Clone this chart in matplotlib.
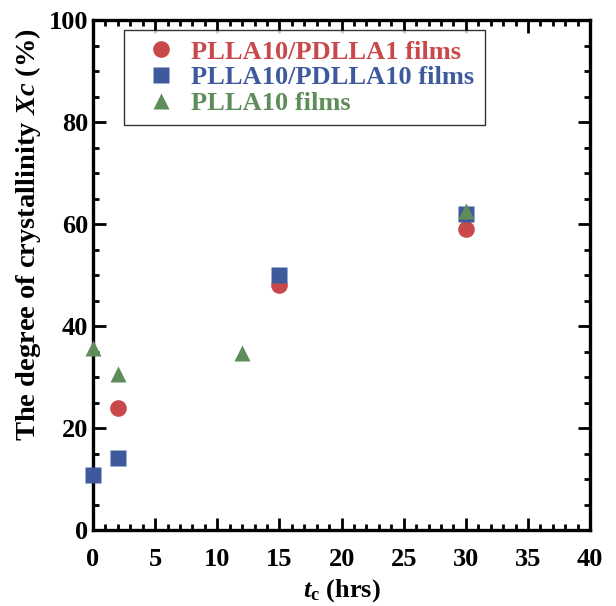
import matplotlib
matplotlib.use("Agg")
import matplotlib.pyplot as plt
from matplotlib.ticker import MultipleLocator

plt.rcParams.update({
    "font.family": "Liberation Serif",
    "font.weight": "bold",
    "mathtext.fontset": "custom",
    "mathtext.rm": "Liberation Serif:bold",
    "mathtext.it": "Liberation Serif:italic:bold",
    "mathtext.bf": "Liberation Serif:bold",
})

# data
t_blend1 = [2, 15, 30]
xc_blend1 = [24, 48, 59]
t_blend10 = [0, 2, 15, 30]
xc_blend10 = [10.8, 14.1, 50, 62]
t_plla = [0, 2, 12, 30]
xc_plla = [35.7, 30.7, 34.7, 62.5]

red = "#c9484a"
blue = "#3e5a9c"
green = "#5f8c5b"

fig = plt.figure(figsize=(6.16, 6.06), dpi=100)
ax = fig.add_axes([0.151, 0.125, 0.807, 0.842])

ax.plot(t_blend1, xc_blend1, linestyle='none', marker='o', ms=12,
        color=red, mec='none', label='PLLA10/PDLLA1 films', clip_on=False, zorder=3)
ax.plot(t_blend10, xc_blend10, linestyle='none', marker='s', ms=12,
        color=blue, mec='none', label='PLLA10/PDLLA10 films', clip_on=False, zorder=4)
ax.plot(t_plla, xc_plla, linestyle='none', marker='^', ms=12,
        color=green, mec='none', label='PLLA10 films', clip_on=False, zorder=5)

ax.set_xlim(0, 40)
ax.set_ylim(0, 100)
ax.xaxis.set_major_locator(MultipleLocator(5))
ax.xaxis.set_minor_locator(MultipleLocator(1))
ax.yaxis.set_major_locator(MultipleLocator(20))
ax.yaxis.set_minor_locator(MultipleLocator(5))
ax.tick_params(which='both', direction='in', top=True, right=True,
               labelsize=19, width=2.0)
ax.tick_params(axis='x', which='both', pad=13)
ax.tick_params(axis='y', which='both', pad=3.5)
ax.tick_params(which='major', length=9)
ax.tick_params(which='minor', length=4.5)
for side in ('top', 'right', 'bottom', 'left'):
    ax.spines[side].set_linewidth(2.4)

ax.set_xlabel(r'$\it{t}_{\rm c}$ (hrs)', fontsize=19, fontweight='bold', labelpad=4)
ax.set_ylabel(r'The degree of crystallinity $\it{Xc}$ (%)', fontsize=20.5,
              fontweight='bold')
ax.yaxis.set_label_coords(-0.1, 0.58)

leg = ax.legend(loc='upper left', bbox_to_anchor=(0.062, 0.981),
                frameon=True, fancybox=False, handletextpad=0.15,
                labelspacing=0.08, borderpad=0.4, handlelength=2.0,
                borderaxespad=0.0,
                prop={'family': 'Liberation Serif', 'weight': 'bold', 'size': 19})
leg.get_frame().set_edgecolor('black')
leg.get_frame().set_linewidth(1.0)
for txt, col in zip(leg.get_texts(), (red, blue, green)):
    txt.set_color(col)

fig.savefig("out.png", dpi=100)
